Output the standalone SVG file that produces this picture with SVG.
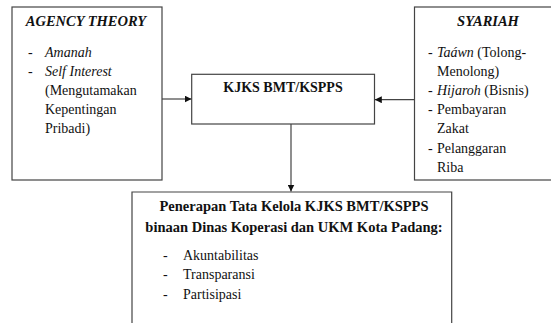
<svg xmlns="http://www.w3.org/2000/svg" width="551" height="323" viewBox="0 0 551 323">
<style>
.box{fill:#fff;stroke:#444;stroke-width:1.2}
.t{font-family:'Liberation Serif','Times New Roman',serif;font-size:14px;fill:#111}
.h{font-size:14.5px}
.b{font-weight:bold}
.i{font-style:italic}
.c{text-anchor:middle}
.ln{stroke:#444;stroke-width:1.2;fill:none}
</style>
<defs>
<marker id="ah" viewBox="0 0 10 10" refX="10" refY="5" markerWidth="7" markerHeight="7" markerUnits="userSpaceOnUse" orient="auto">
<path d="M0,0 L10,5 L0,10 z" fill="#111"/>
</marker>
</defs>
<rect width="551" height="323" fill="#fff"/>
<g id="agency">
<rect class="box" x="12" y="7" width="150" height="173"/>
<text class="t h b i c" x="86" y="26">AGENCY THEORY</text>
<text class="t" x="28" y="57">-</text>
<text class="t i" x="45" y="57">Amanah</text>
<text class="t" x="28" y="75.5">-</text>
<text class="t i" x="45" y="75.5">Self Interest</text>
<text class="t" x="45" y="94.5">(Mengutamakan</text>
<text class="t" x="45" y="113.5">Kepentingan</text>
<text class="t" x="45" y="132.5">Pribadi)</text>
</g>
<g id="syariah">
<rect class="box" x="414.5" y="7" width="145" height="173"/>
<text class="t h b i c" x="488" y="26">SYARIAH</text>
<text class="t" x="428" y="57">-</text>
<text class="t" x="437" y="57"><tspan class="i">Taáwn</tspan> (Tolong-</text>
<text class="t" x="437" y="76">Menolong)</text>
<text class="t" x="428" y="95">-</text>
<text class="t" x="437" y="95"><tspan class="i">Hijaroh</tspan> (Bisnis)</text>
<text class="t" x="428" y="114">-</text>
<text class="t" x="437" y="114">Pembayaran</text>
<text class="t" x="437" y="133">Zakat</text>
<text class="t" x="428" y="153">-</text>
<text class="t" x="437" y="153">Pelanggaran</text>
<text class="t" x="437" y="172">Riba</text>
</g>
<g id="kjks">
<rect class="box" x="191.7" y="74.3" width="182.8" height="49.7"/>
<text class="t b c" x="283" y="92">KJKS BMT/KSPPS</text>
</g>
<g id="penerapan">
<path class="box" d="M132,330 V192 H451.7 V330"/>
<text class="t h b c" x="294" y="211">Penerapan Tata Kelola KJKS BMT/KSPPS</text>
<text class="t h b c" x="294" y="232">binaan Dinas Koperasi dan UKM Kota Padang:</text>
<text class="t" x="163" y="260">-</text>
<text class="t" x="183" y="260">Akuntabilitas</text>
<text class="t" x="163" y="279">-</text>
<text class="t" x="183" y="279">Transparansi</text>
<text class="t" x="163" y="298.5">-</text>
<text class="t" x="183" y="298.5">Partisipasi</text>
</g>
<g id="connectors">
<line class="ln" x1="162" y1="99" x2="191.5" y2="99" marker-end="url(#ah)"/>
<line class="ln" x1="414.5" y1="99.7" x2="374.8" y2="99.7" marker-end="url(#ah)"/>
<line class="ln" x1="291" y1="124" x2="291" y2="191.5" marker-end="url(#ah)"/>
</g>
</svg>
